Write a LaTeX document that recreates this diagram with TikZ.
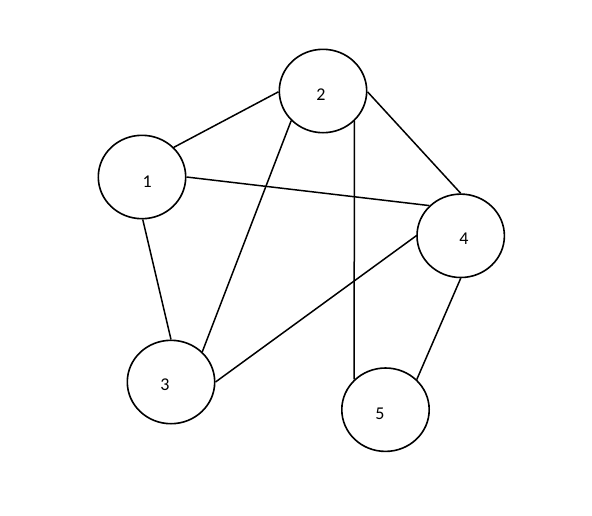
\documentclass[tikz,border=0pt]{standalone}
\usepackage{fontspec}
\setmainfont{Carlito}
\usetikzlibrary{shapes.geometric}
\begin{document}
\begin{tikzpicture}[x=1pt,y=-1pt,
  vert/.style={ellipse,draw,line width=1.6pt,minimum width=87.4pt,minimum height=83.4pt,inner sep=0pt},
  lbl/.style={font=\fontsize{18}{20}\selectfont,inner sep=0pt},
  edge/.style={line width=1.5pt}]
\useasboundingbox (0,0) rectangle (592,515);
\node[vert] (n1) at (142,177) {};
\node[vert] (n2) at (323,91) {};
\node[vert] (n3) at (171,382) {};
\node[vert] (n4) at (460.7,235.8) {};
\node[vert] (n5) at (385.5,409.7) {};
\node[lbl] (t1) at (147.3,181.5) {1};
\node[lbl] (t2) at (321,94.5) {2};
\node[lbl] (t3) at (165,384.5) {3};
\node[lbl] (t4) at (464,239) {4};
\node[lbl] (t5) at (380,413.5) {5};
\draw[edge] (n1.43) -- (n2.181);
\draw[edge] (n1.0) -- (n4.136.5);
\draw[edge] (n1.-89) -- (n3.90);
\draw[edge] (n2.223.8) -- (n3.44);
\draw[edge] (n2.-44) -- (n5.136);
\draw[edge] (n2.-1) -- (n4.90);
\draw[edge] (n3.0) -- (n4.180);
\draw[edge] (n4.-90) -- (n5.44);
\end{tikzpicture}
\end{document}
